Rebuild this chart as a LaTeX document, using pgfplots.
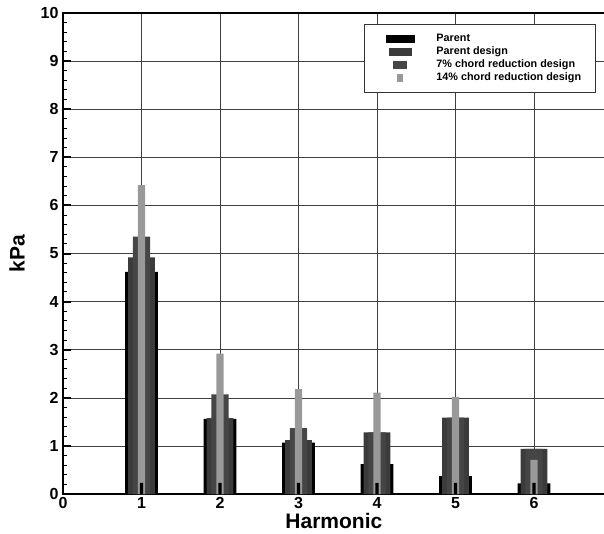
\documentclass[border=0pt]{standalone}
\usepackage{fontspec}
\setmainfont{Liberation Sans}
\usepackage{pgfplots}
\pgfplotsset{compat=1.18}
\pgfplotsset{
  legimg/.style={legend image code/.code={
    \path[draw=none, fill=none] (-22pt,-4pt) rectangle (14.5pt,4pt);
    \fill[##1] (-#1,-4pt) rectangle (#1,4pt);}},
}
\begin{document}
\begin{tikzpicture}
\useasboundingbox (-63pt,-39pt) rectangle (541pt,494pt);
\begin{axis}[
    at={(0,0)}, anchor=south west,
    scale only axis, width=549.5pt, height=481pt,
    xmin=0, xmax=7, ymin=0, ymax=10,
    xtick={0,1,2,3,4,5,6}, ytick={0,1,2,3,4,5,6,7,8,9,10},
    minor y tick num=4,
    xmajorgrids, ymajorgrids,
    grid style={black!75, line width=0.6pt},
    axis line style={line width=2.5pt},
    tick align=inside,
    ytick pos=left, xtick pos=bottom,
    major tick length=8pt, minor tick length=4pt,
    xtick style={draw=none},
    ytick style={line width=2pt, black},
    minor y tick style={line width=1pt, black},
    /pgf/number format/assume math mode=true,
    ticklabel style={font=\fontsize{16}{16}\selectfont\bfseries},
    yticklabel style={xshift=-1pt},
    xlabel={Harmonic}, ylabel={kPa},
    label style={font=\fontsize{21}{21}\selectfont\bfseries, inner sep=0pt},
    xlabel style={at={(axis description cs:0.493,0)}, anchor=north, yshift=-19pt},
    ylabel style={at={(axis description cs:-0.0692,0.5)}, anchor=south},
    legend style={at={(axis description cs:0.970,0.977)}, anchor=north east,
      draw=black!80, line width=0.8pt, fill=white,
      inner xsep=14pt, inner ysep=8pt,
      font=\fontsize{10.8}{10.8}\selectfont\bfseries,
      column sep=21pt, row sep=0pt,
      nodes={inner sep=0.5pt, text height=9pt, text depth=3pt}},
    legend cell align=left,
]
\addplot[ybar, bar width=0.42, bar shift=0pt, fill=black, draw=none, legimg=14.5pt]
  coordinates {(1,4.62) (2,1.56) (3,1.07) (4,0.62) (5,0.37) (6,0.22)};
\addlegendentry{Parent}
\addplot[ybar, bar width=0.34, bar shift=0pt, fill=black!77, draw=none, legimg=11.5pt]
  coordinates {(1,4.92) (2,1.58) (3,1.12) (4,1.28) (5,1.59) (6,0.94)};
\addlegendentry{Parent design}
\addplot[ybar, bar width=0.22, bar shift=0pt, fill=black!73, draw=none, legimg=7pt]
  coordinates {(1,5.35) (2,2.07) (3,1.37) (4,1.28) (5,1.59) (6,0.94)};
\addlegendentry{7\% chord reduction design}
\addplot[ybar, bar width=0.09, bar shift=0pt, fill=black!40, draw=none, legimg=3pt]
  coordinates {(1,6.42) (2,2.92) (3,2.18) (4,2.11) (5,2.02) (6,0.71)};
\addlegendentry{14\% chord reduction design}
\addplot[ybar, bar width=0.04, bar shift=0pt, fill=black, draw=none, forget plot]
  coordinates {(1,0.23) (2,0.23) (3,0.23) (4,0.23) (5,0.23) (6,0.23)};
\end{axis}
\end{tikzpicture}
\end{document}
